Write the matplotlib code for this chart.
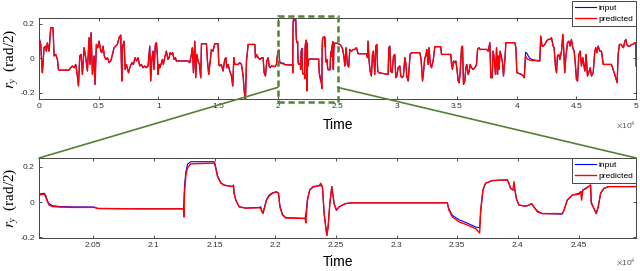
import numpy as np
import matplotlib
matplotlib.use('Agg')
import matplotlib.pyplot as plt
from matplotlib.patches import Rectangle, ConnectionPatch
from matplotlib.ticker import FuncFormatter

plt.rcParams['font.family'] = ['Liberation Sans', 'DejaVu Sans']
plt.rcParams['mathtext.fontset'] = 'stix'
plt.rcParams['axes.unicode_minus'] = False

# ---- data (time in samples, r_y in rad/2) ----
# segment A: 0 .. 19880, input and predicted overlap
t_a = [0, 140, 223, 279, 419, 559, 614, 698, 838, 978, 1170, 1260, 1400, 1540, 1620, 1680,
       2510, 2650, 2790, 2930, 3070, 3210, 3300, 3410, 3520, 3630, 3770, 3910, 4050, 4190,
       4270, 4360, 4470, 4610, 4690, 4800, 4920, 5030, 5170, 5250, 5360, 5470, 5590, 5730,
       5870, 6000, 6150, 6280, 6420, 6560, 6700, 6840, 6930, 6980, 7120, 7210, 7320, 7490,
       7600, 7770, 7900, 8040, 8160, 8290, 8430, 8570, 8710, 8850, 8990, 9130, 9270, 9350,
       9460, 9550, 9630, 9740, 9830, 9910, 9970, 10050, 10130, 10250, 10330, 10410, 10520,
       10660, 10800, 10890, 10970, 11080, 11190, 11310, 11420, 11500, 12480, 12620, 12760,
       12840, 12930, 13040, 13120, 13210, 13320, 13430, 13540, 13600, 14020, 14100, 14210,
       14320, 14430, 14570, 14710, 14990, 15050, 15130, 15270, 15410, 15550, 15640, 15720,
       15830, 15970, 16110, 16220, 16310, 16390, 16670, 16810, 16950, 17090, 17170, 17280,
       17370, 17510, 18070, 18120, 18210, 18350, 18490, 18630, 18760, 18850, 18960, 19070,
       19180, 19270, 19350, 19460, 19740, 19880]
v_a = [0.120, 0.081, -0.025, -0.083, 0.062, 0.071, 0.042, 0.091, 0.042, 0.178, 0.178, 0.014,
       0.023, -0.006, -0.064, -0.068, -0.068, -0.054, -0.044, -0.054, -0.035, -0.102, -0.160,
       0.014, 0.023, -0.093, 0.062, 0.004, -0.073, 0.120, -0.035, 0.149, -0.093, 0.014,
       -0.151, 0.081, 0.062, 0.100, 0.042, 0.033, 0.071, 0.014, -0.006, 0.004, -0.025,
       -0.015, 0.023, 0.062, 0.071, 0.081, 0.120, 0.135, -0.131, 0.062, 0.100, -0.064,
       -0.035, -0.083, -0.054, -0.025, -0.035, 0.004, -0.015, 0.004, -0.044, -0.035, -0.054,
       -0.044, -0.054, -0.044, 0.071, -0.131, 0.004, 0.042, -0.064, 0.081, 0.091, 0.014,
       -0.093, -0.035, -0.054, -0.025, -0.006, -0.035, 0.004, 0.042, -0.006, 0.004, 0.033,
       0.023, 0.033, -0.006, 0.004, -0.015, -0.015, -0.025, 0.023, 0.062, -0.083, 0.100,
       -0.112, 0.023, -0.015, -0.035, -0.112, 0.085, 0.085, -0.015, -0.093, -0.025, 0.052,
       0.042, 0.085, 0.085, -0.035, -0.044, -0.035, -0.073, -0.006, 0.004, -0.054, -0.035,
       -0.073, -0.102, -0.160, 0.004, -0.035, -0.035, -0.025, -0.035, -0.102, -0.180,
       -0.247, -0.015, 0.081, 0.081, 0.004, 0.023, 0.004, -0.006, 0.004, 0.004, -0.083,
       -0.102, -0.015, 0.004, -0.044, -0.054, -0.044, -0.048, -0.035]

# segment W: zoomed window 20000 .. 25000
t_w = [20000, 20055, 20096, 20110, 20124, 20137, 20165, 20220, 20330, 20508, 20536, 20879,
       21244, 21247, 21252, 21263, 21277, 21304, 21497, 21505, 21524, 21552, 21579, 21648,
       21656, 21661, 21675, 21703, 21758, 21867, 21881, 21889, 21900, 21911, 21928, 21950,
       21977, 22010, 22027, 22038, 22060, 22087, 22246, 22252, 22266, 22285, 22312, 22362,
       22375, 22389, 22403, 22425, 22436, 22450, 22466, 22485, 22504, 22526, 22553, 22581,
       22636, 23418, 23432, 23460, 23515, 23570, 23652, 23685, 23693, 23712, 23734, 23789,
       23913, 23926, 23940, 23959, 23968, 23976, 23987, 24009, 24064, 24091, 24113, 24132,
       24160, 24201, 24366, 24380, 24407, 24448, 24503, 24517, 24525, 24536, 24558, 24599,
       24605, 24627, 24646, 24662, 24682, 24709, 24750, 24997]
in_w = [0.044, 0.046, 0.050, 0.035, 0.005, -0.010, -0.020, -0.025, -0.027, -0.028, -0.036,
        -0.038, -0.038, 0.000, 0.090, 0.170, 0.215, 0.229, 0.229, 0.215, 0.150, 0.110,
        0.097, 0.088, 0.088, 0.050, 0.011, -0.027, -0.034, -0.030, -0.027, -0.050, -0.055,
        -0.030, 0.015, 0.040, 0.053, 0.059, 0.050, -0.020, -0.070, -0.088, -0.092, -0.070,
        0.020, 0.070, 0.085, 0.093, 0.093, 0.088, -0.065, -0.189, -0.141, -0.008, 0.088,
        -0.008, -0.046, -0.027, -0.017, -0.008, -0.004, -0.004, -0.040, -0.075, -0.100,
        -0.115, -0.141, -0.145, -0.060, 0.069, 0.107, 0.122, 0.126, 0.107, 0.078, 0.069,
        0.069, 0.069, 0.021, -0.017, -0.023, -0.017, -0.008, -0.027, -0.050, -0.065,
        -0.068, -0.046, 0.011, 0.040, 0.050, 0.059, 0.055, 0.069, 0.078, 0.097, 0.000,
        -0.036, -0.065, -0.027, 0.050, 0.078, 0.088, 0.088]
pred_w = [0.040, 0.040, 0.046, 0.025, 0.000, -0.018, -0.025, -0.028, -0.030, -0.030, -0.036,
          -0.038, -0.038, -0.084, 0.050, 0.150, 0.195, 0.217, 0.221, 0.205, 0.145, 0.107,
          0.095, 0.088, 0.097, 0.050, 0.011, -0.027, -0.034, -0.032, -0.035, -0.055, -0.065,
          -0.036, 0.011, 0.035, 0.050, 0.057, 0.050, -0.027, -0.074, -0.090, -0.093, -0.118,
          0.011, 0.069, 0.088, 0.093, 0.107, 0.088, -0.065, -0.189, -0.141, -0.008, 0.088,
          -0.008, -0.046, -0.027, -0.017, -0.008, -0.004, -0.004, -0.046, -0.084, -0.112,
          -0.126, -0.150, -0.175, -0.046, 0.069, 0.107, 0.122, 0.126, 0.107, 0.078, 0.069,
          0.116, 0.069, 0.021, -0.017, -0.023, -0.017, -0.008, -0.027, -0.055, -0.065,
          -0.065, -0.046, 0.011, 0.040, 0.045, 0.059, 0.011, 0.069, 0.075, 0.097, -0.008,
          -0.036, -0.065, -0.027, 0.050, 0.078, 0.088, 0.088]

# segment B: 25040 .. 40630, overlapping
t_b = [25040, 25180, 25320, 25430, 25540, 25600, 25710, 25820, 25930, 26020, 26160, 26300,
       26440, 26580, 26720, 27410, 27500, 27550, 27640, 27720, 27830, 27920, 28000, 28110,
       28200, 28280, 28360, 28450, 29230, 29290, 29370, 29450, 29560, 29680, 29790, 29870,
       29960, 30070, 30210, 30290, 30400, 30510, 30630, 30710, 30790, 30910, 30990, 31070,
       31180, 31880, 31970, 32020, 32110, 32190, 32300, 32390, 32470, 32580, 32660, 32750,
       32860, 33000, 33140, 33640, 33700, 34480, 34540, 34620, 34700, 34820, 34900, 34980,
       35100, 35180, 35260, 35380, 35460, 35540, 35650, 35740, 35820, 35930, 36020, 36100,
       36210, 36350, 36490, 36630, 36720, 36830, 36940, 37470, 37610, 37750, 37830, 37940,
       38030, 38110, 38220, 38310, 38390, 38450, 38530, 38610, 38730, 38810, 38890, 39010,
       39090, 39840, 39930, 40010, 40400, 40540, 40630]
v_b = [0.085, 0.081, 0.071, 0.052, 0.004, -0.044, 0.062, -0.035, -0.050, 0.052, 0.042, 0.052,
       0.052, 0.062, 0.027, 0.027, 0.004, 0.100, -0.015, -0.073, -0.102, 0.023, 0.042,
       -0.093, 0.071, 0.081, -0.073, -0.083, -0.093, 0.062, 0.071, -0.073, -0.083, 0.014,
       0.023, -0.112, -0.102, -0.054, -0.044, -0.102, -0.112, -0.102, 0.004, -0.025, -0.102,
       -0.131, -0.054, 0.023, 0.033, 0.033, 0.004, -0.035, -0.131, -0.083, 0.004, 0.014,
       0.052, -0.035, 0.062, -0.025, -0.054, -0.015, 0.068, 0.068, 0.023, 0.023, -0.035,
       -0.064, -0.015, -0.025, -0.015, -0.054, -0.131, -0.141, -0.083, 0.062, 0.071, -0.151,
       -0.131, -0.054, -0.035, -0.093, -0.073, -0.035, -0.054, -0.064, -0.054, -0.035,
       0.052, 0.062, 0.052, 0.052, 0.042, 0.091, -0.112, -0.112, 0.042, 0.004, -0.093,
       0.062, -0.093, 0.014, -0.064, 0.042, 0.004, -0.025, -0.102, -0.006, 0.091, 0.091,
       0.062, -0.083, -0.093, -0.102, -0.112]

# segment D: 40740 .. 41930, predicted lags input
t_d = [40740, 40850, 40960, 41100, 41250, 41500, 41790, 41930]
in_d = [0.035, 0.030, 0.015, 0.000, -0.005, -0.010, -0.012, -0.015]
pred_d = [0.014, 0.000, -0.006, -0.010, -0.012, -0.012, -0.015, -0.015]

# segment C: 42010 .. 50000, overlapping
t_c = [42010, 42120, 42210, 42350, 42490, 42630, 42770, 42910, 43050, 43130, 43240, 43330,
       43410, 43520, 43610, 43750, 43860, 43940, 44020, 44110, 44250, 44360, 44470, 44580,
       44690, 44810, 44920, 45000, 45090, 45200, 45310, 45420, 45530, 45620, 45700, 45810,
       45920, 46030, 46150, 46260, 46400, 46540, 46620, 46710, 46820, 46960, 47100, 47240,
       47930, 48070, 48210, 48330, 48410, 48490, 48600, 48720, 48830, 48940, 49050, 49140,
       49220, 49330, 49470, 49610, 49750, 49890, 49970, 50000]
v_c = [0.129, 0.071, 0.071, 0.081, 0.100, 0.110, 0.110, 0.120, 0.071, 0.062, -0.044, -0.083,
       0.014, 0.023, -0.006, 0.042, 0.139, 0.042, -0.083, 0.004, 0.091, 0.100, 0.071, 0.110,
       0.062, 0.042, -0.044, -0.122, -0.131, 0.023, 0.042, -0.044, 0.004, -0.035, -0.073,
       0.023, -0.102, -0.083, -0.054, -0.102, -0.083, 0.042, 0.062, 0.033, 0.071, 0.042,
       0.042, -0.035, -0.035, -0.064, -0.093, -0.122, -0.141, 0.023, 0.081, 0.081, 0.071,
       0.062, 0.100, 0.110, 0.081, 0.071, 0.071, 0.081, 0.081, 0.091, 0.091, -0.044]

time = np.array(t_a + t_w + t_b + t_d + t_c)
r_input = np.array(v_a + in_w + v_b + in_d + v_c)
r_pred = np.array(v_a + pred_w + v_b + pred_d + v_c)

zoom_start, zoom_end = 20000, 25000

fig = plt.figure(figsize=(6.4, 2.71), dpi=100)
ax1 = fig.add_axes([0.061, 0.635, 0.933, 0.299])
ax2 = fig.add_axes([0.061, 0.122, 0.933, 0.295])

green = '#548235'


def style(ax, xlab_y, off_y):
    ax.tick_params(direction='in', length=2.5, width=0.6, top=True, right=True,
                   labelsize=6, colors='#333333', pad=3)
    for sp in ax.spines.values():
        sp.set_color('#444444')
        sp.set_linewidth(0.7)
    ax.set_yticks([-0.2, 0, 0.2])
    ax.yaxis.set_major_formatter(FuncFormatter(lambda v, p: '%g' % round(v, 3)))
    ax.xaxis.set_major_formatter(FuncFormatter(lambda v, p: '%g' % round(v / 1e4, 3)))
    ax.set_xlabel('Time', fontsize=10, color='black', va='center')
    ax.xaxis.set_label_coords(0.5, xlab_y)
    ax.set_ylabel(r'$r_y\;\;$(rad/2)', fontsize=11, family='Liberation Serif', va='center')
    ax.yaxis.set_label_coords(-0.046, 0.5)
    ax.text(1.0, off_y, r'$\times$10$^4$', transform=ax.transAxes, ha='right', va='center',
            fontsize=6, color='#555555')


for ax in (ax1, ax2):
    ax.plot(time, r_input, color='blue', lw=0.8, label='input')
    ax.plot(time, r_pred, color='red', lw=1.0, label='predicted')

style(ax1, -0.32, -0.32)
style(ax2, -0.30, -0.30)

ax1.set_xlim(0, 50000)
ax1.set_ylim(-0.235, 0.235)
ax1.set_xticks(np.arange(0, 50001, 5000))

ax2.set_xlim(20053, 24975)
ax2.set_ylim(-0.203, 0.25)
ax2.set_xticks(np.arange(20500, 24600, 500))

leg_kw = dict(fontsize=6, handlelength=2.5, handletextpad=0.3, borderpad=0.35,
              labelspacing=0.45, fancybox=False, edgecolor='#444444', framealpha=1,
              borderaxespad=0)
l1 = ax1.legend(loc='upper right', bbox_to_anchor=(1.0, 1.21), **leg_kw)
l2 = ax2.legend(loc='upper right', bbox_to_anchor=(1.0, 1.0), **leg_kw)
for lg in (l1, l2):
    lg.get_frame().set_linewidth(0.7)

# zoom box and connectors
rect = Rectangle((zoom_start, -0.252), zoom_end - zoom_start, 0.499, fill=False,
                 edgecolor=green, lw=1.8, ls=(0, (2.5, 1.5)), clip_on=False, zorder=5)
ax1.add_patch(rect)
for xa, xb in ((zoom_start, 0.0), (zoom_end, 1.0)):
    con = ConnectionPatch(xyA=(xa, -0.168), coordsA=ax1.transData,
                          xyB=(xb, 1.0), coordsB=ax2.transAxes,
                          color=green, lw=1.2)
    fig.add_artist(con)

fig.savefig('out.png', dpi=100)
